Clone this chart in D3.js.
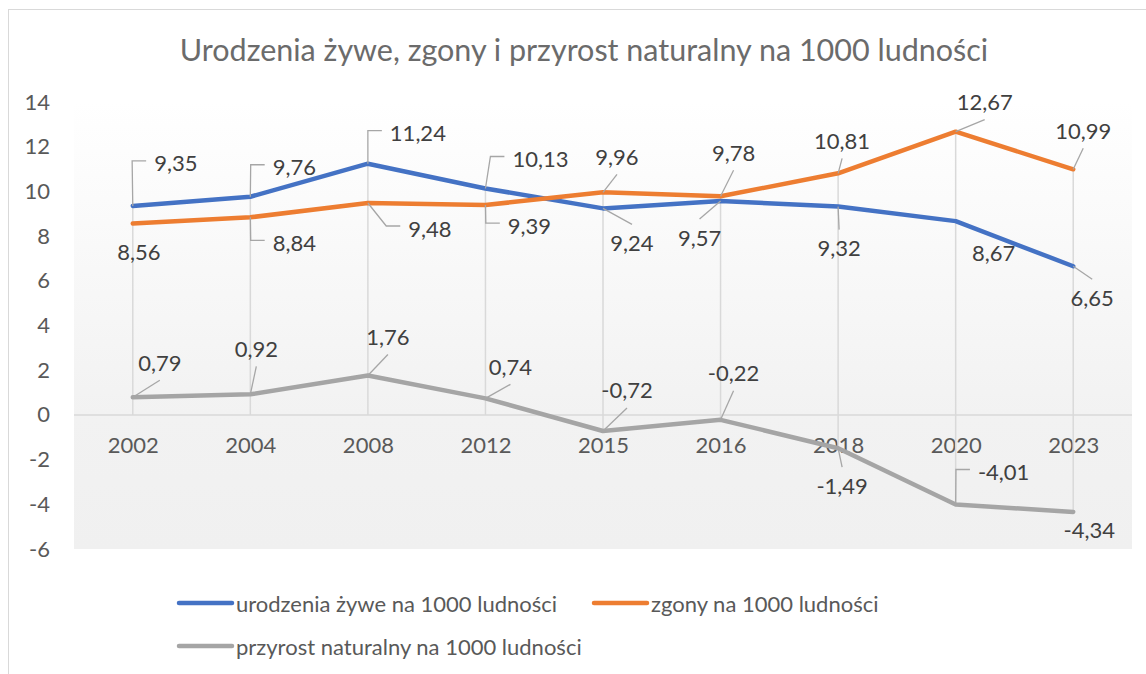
<!DOCTYPE html>
<html>
<head>
<meta charset="utf-8">
<script src="https://cdn.jsdelivr.net/npm/d3@7"></script>
<style>
  body { margin: 0; background: #fff; }
  svg text { font-family: Lato, "Noto Sans", sans-serif; }
</style>
</head>
<body>
<div id="chart"></div>
<script>
// dane
var lata = ["2002", "2004", "2008", "2012", "2015", "2016", "2018", "2020", "2023"];
var urodzenia = [9.35, 9.76, 11.24, 10.13, 9.24, 9.57, 9.32, 8.67, 6.65];
var zgony = [8.56, 8.84, 9.48, 9.39, 9.96, 9.78, 10.81, 12.67, 10.99];
var przyrost = [0.79, 0.92, 1.76, 0.74, -0.72, -0.22, -1.49, -4.01, -4.34];
var osY = [-6, -4, -2, 0, 2, 4, 6, 8, 10, 12, 14];

var tytul = "Urodzenia żywe, zgony i przyrost naturalny na 1000 ludności";
var nazwy = ["urodzenia żywe na 1000 ludności", "zgony na 1000 ludności", "przyrost naturalny na 1000 ludności"];
var kolory = ["#4472C4", "#ED7D31", "#A5A5A5"];

// przesuniecia etykiet (dx, dy, typ linii odniesienia) - recznie ustawione jak w Excelu
var etykUrodzenia = [[43,-43,"bok"],[44,-30,"bok"],[50,-31,"bok"],[55,-30,"bok"],[29,34,"pion"],[-21,36,"pion"],[1,41,"pion"],[38,31,""],[19,31,"pion"]];
var etykZgony = [[6,28,""],[44,25,"bok"],[62,25,"bok"],[44,20,"bok"],[14,-36,"pion"],[13,-44,"pion"],[4,-33,"pion"],[29,-30,"pion"],[10,-39,"pion"]];
var etykPrzyrost = [[27,-35,"pion"],[6,-46,"pion"],[20,-39,"pion"],[25,-32,"pion"],[24,-41,"pion"],[13,-47,"pion"],[4,37,"pion"],[48,-33,"bok"],[16,18,""]];

var width = 1146, height = 674;
var plotLeft = 74, plotRight = 1132, plotTop = 102, plotBottom = 549;
var fontSize = "22px";

var svg = d3.select("#chart").append("svg")
    .attr("width", width)
    .attr("height", height);

// ramka wykresu
svg.append("rect")
    .attr("x", 8.5).attr("y", 9.5)
    .attr("width", 1200).attr("height", 700)
    .attr("fill", "#fff")
    .attr("stroke", "#d9d9d9")
    .attr("stroke-width", 1);

var grad = svg.append("defs").append("linearGradient")
    .attr("id", "tloPlot")
    .attr("x1", 0).attr("y1", 0).attr("x2", 0).attr("y2", 1);
grad.append("stop").attr("offset", "0%").attr("stop-color", "#ffffff");
grad.append("stop").attr("offset", "70%").attr("stop-color", "#f2f2f2");
grad.append("stop").attr("offset", "100%").attr("stop-color", "#f0f0f0");

svg.append("rect")
    .attr("x", plotLeft).attr("y", plotTop)
    .attr("width", plotRight - plotLeft).attr("height", plotBottom - plotTop)
    .attr("fill", "url(#tloPlot)");

var x = d3.scalePoint().domain(lata).range([plotLeft, plotRight]).padding(0.5);
var y = d3.scaleLinear().domain([-6, 14]).range([plotBottom, plotTop]);

// tytul
svg.append("text")
    .attr("x", 584).attr("y", 61)
    .attr("text-anchor", "middle")
    .attr("fill", "#6b6b6b")
    .style("font-size", "30.5px")
    .text(tytul);

// os Y
var axisY = svg.append("g")
    .attr("transform", "translate(58,0)")
    .call(d3.axisLeft(y).tickValues(osY).tickSize(0).tickPadding(8).tickFormat(function(d){ return String(d); }));
axisY.select(".domain").remove();
axisY.selectAll("text")
    .attr("fill", "#595959")
    .style("font-size", fontSize)
    .style("font-family", "Lato, sans-serif");

// os X na poziomie zera
var axisX = svg.append("g")
    .attr("transform", "translate(0," + y(0) + ")")
    .call(d3.axisBottom(x).tickSize(0).tickPadding(22));
axisX.select(".domain")
    .attr("d", "M" + plotLeft + ",0H" + plotRight)
    .attr("stroke", "#d9d9d9")
    .attr("stroke-width", 1.5);
axisX.selectAll("text")
    .attr("fill", "#595959")
    .style("font-size", fontSize)
    .style("font-family", "Lato, sans-serif");

// linie rzutowania
var wszystkie = [urodzenia, zgony, przyrost];
svg.append("g").selectAll("line")
    .data(lata)
    .join("line")
    .attr("x1", function(d){ return x(d); })
    .attr("x2", function(d){ return x(d); })
    .attr("y1", function(d, i){ return y(Math.max(0, d3.max(wszystkie, function(s){ return s[i]; }))); })
    .attr("y2", function(d, i){ return y(Math.min(0, d3.min(wszystkie, function(s){ return s[i]; }))); })
    .attr("stroke", "#d9d9d9")
    .attr("stroke-width", 1.5);

var linia = d3.line()
    .x(function(d, i){ return x(lata[i]); })
    .y(function(d){ return y(d); });

wszystkie.forEach(function(s, k){
    svg.append("path")
        .datum(s)
        .attr("d", linia)
        .attr("fill", "none")
        .attr("stroke", kolory[k])
        .attr("stroke-width", 4.5)
        .attr("stroke-linejoin", "round")
        .attr("stroke-linecap", "round");
});

// etykiety danych
var gLeader = svg.append("g");
var gEtyk = svg.append("g");
var fmt = function(v){ return v.toFixed(2).replace(".", ","); };

function etykiety(s, ofs){
    s.forEach(function(v, i){
        var px = x(lata[i]), py = y(v);
        var cx = px + ofs[i][0], cy = py + ofs[i][1];
        var t = gEtyk.append("text")
            .attr("x", cx).attr("y", cy)
            .attr("text-anchor", "middle")
            .attr("dominant-baseline", "central")
            .attr("fill", "#404040")
            .style("font-size", fontSize)
            .text(fmt(v));
        var w = t.node().getComputedTextLength();
        if (ofs[i][2] == "bok") {
            var left = cx - w / 2;
            gLeader.append("path")
                .attr("d", "M" + px + "," + py + "L" + (left - 22) + "," + (cy - 2) + "H" + (left - 8))
                .attr("fill", "none")
                .attr("stroke", "#a6a6a6")
                .attr("stroke-width", 1.3);
        }
        if (ofs[i][2] == "pion") {
            var ey = ofs[i][1] < 0 ? cy + 18 : cy - 18;
            gLeader.append("path")
                .attr("d", "M" + px + "," + py + "L" + cx + "," + ey)
                .attr("fill", "none")
                .attr("stroke", "#a6a6a6")
                .attr("stroke-width", 1.3);
        }
    });
}
etykiety(urodzenia, etykUrodzenia);
etykiety(zgony, etykZgony);
etykiety(przyrost, etykPrzyrost);

// legenda
var legPoz = [[179, 603], [594, 603], [179, 646]];
var leg = svg.append("g").selectAll("g")
    .data(nazwy)
    .join("g")
    .attr("transform", function(d, i){ return "translate(" + legPoz[i][0] + "," + legPoz[i][1] + ")"; });
leg.append("line")
    .attr("x1", 0).attr("x2", 53)
    .attr("stroke", function(d, i){ return kolory[i]; })
    .attr("stroke-width", 4.5)
    .attr("stroke-linecap", "round");
leg.append("text")
    .attr("x", 57)
    .attr("dominant-baseline", "central")
    .attr("fill", "#595959")
    .style("font-size", fontSize)
    .text(function(d){ return d; });
</script>
</body>
</html>
